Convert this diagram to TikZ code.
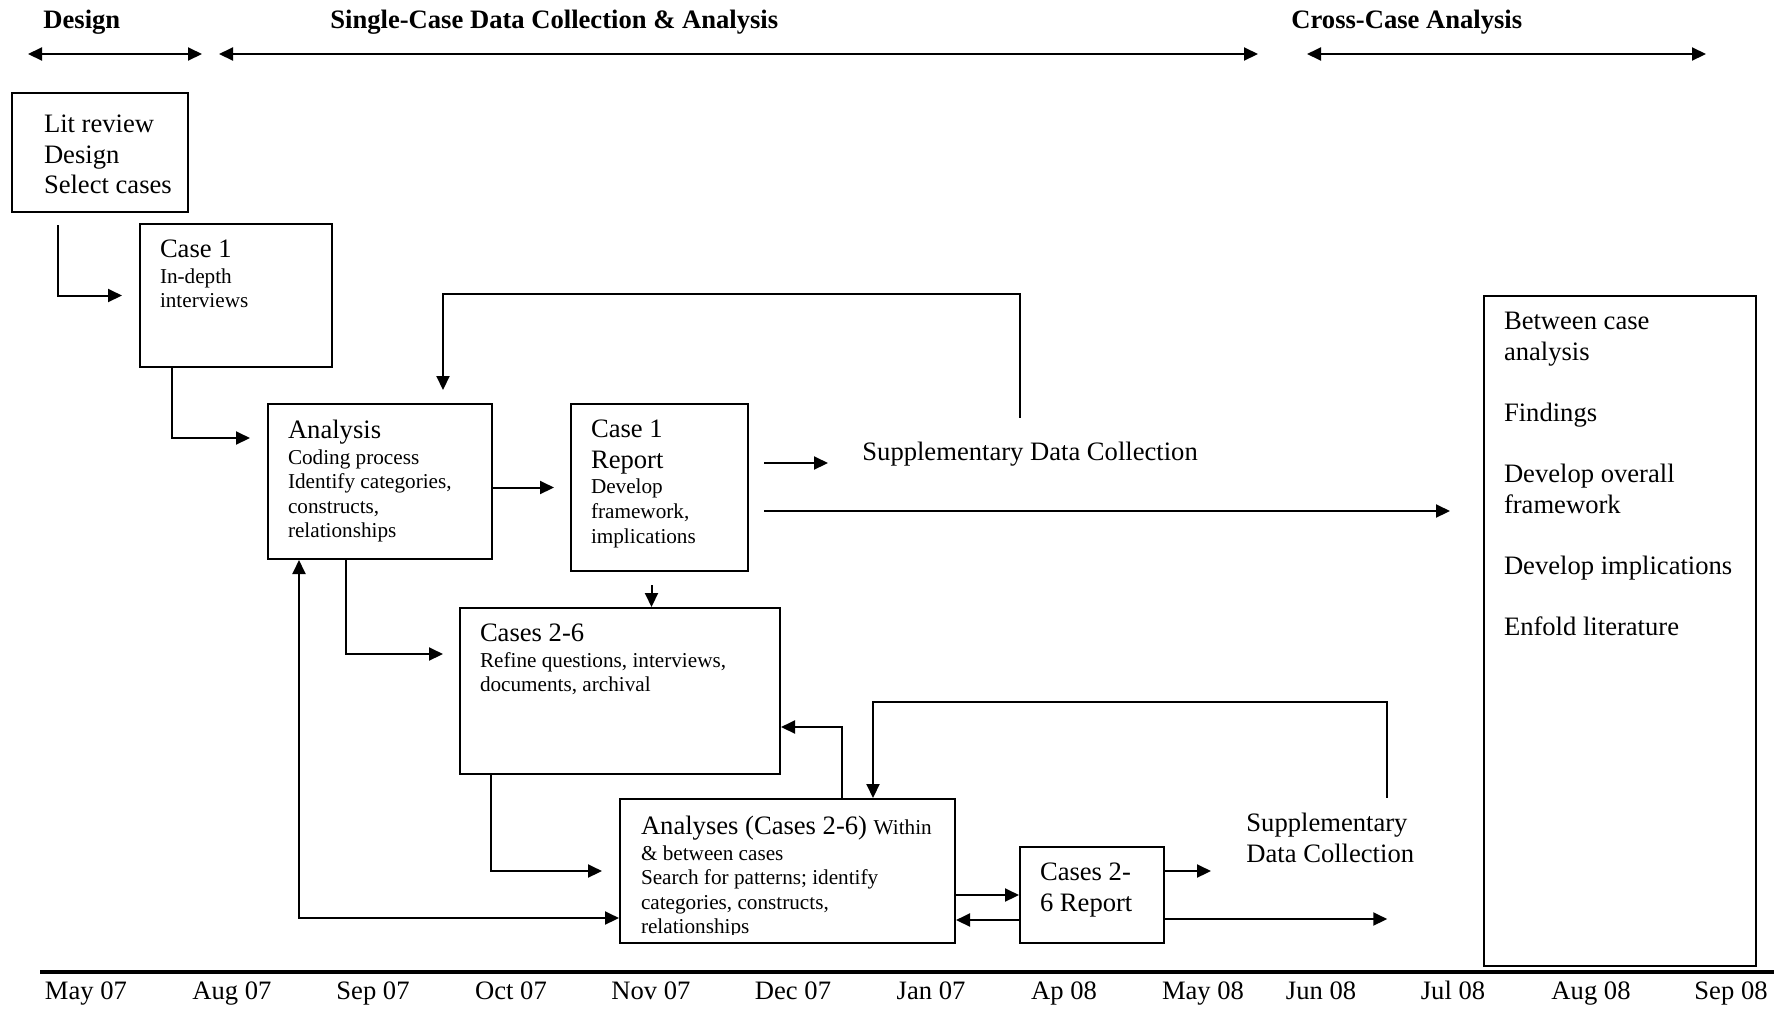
\documentclass[tikz,border=0pt]{standalone}
\usepackage{fontspec}
\setmainfont{Liberation Serif}
\usetikzlibrary{arrows.meta}

\newcommand{\bigfont}{\fontsize{13.3}{15.3}\selectfont}
\newcommand{\smlfont}{\fontsize{10.6}{12.3}\selectfont}
\newcommand{\boxtxt}[3]{\parbox[c][#2][t]{#1}{\raggedright #3}}
\newcommand{\detail}[1]{\par\vspace{0.5pt}{\smlfont #1\par}}

\tikzset{
	stage/.style={draw, line width=1pt, anchor=north west, inner xsep=10pt, inner ysep=8pt, font=\bigfont},
	flow/.style={line width=1pt, -{Triangle[length=7pt,width=6.5pt]}},
	span/.style={line width=1pt, {Triangle[length=7pt,width=6.5pt]}-{Triangle[length=7pt,width=6.5pt]}},
	phase/.style={anchor=west, inner sep=0pt, font=\bigfont\bfseries},
	plain/.style={anchor=west, inner sep=2pt, align=left, font=\bigfont},
	date/.style={anchor=base, inner sep=0pt, font=\bigfont},
}

\begin{document}
\begin{tikzpicture}[x=0.5pt, y=-0.5pt]
	\useasboundingbox (0,0) rectangle (1781,1008);

	% phases
	\node[phase] (design) at (43,22.5) {Design};
	\node[phase] (single) at (330,22.5) {Single-Case Data Collection \& Analysis};
	\node[phase] (cross) at (1291,22.5) {Cross-Case Analysis};
	\draw[span] (28,54) -- (202,54);
	\draw[span] (219,54) -- (1258,54);
	\draw[span] (1307,54) -- (1706,54);

	% boxes
	\node[stage, inner xsep=7pt, inner ysep=11pt] (lit) at (11,92) {\boxtxt{74pt}{37.5pt}{\leftskip=9pt Lit review\\Design\\Select cases}};
	\node[stage] (case1) at (139,223) {\boxtxt{76pt}{55.5pt}{Case 1\detail{In-depth\\interviews}}};
	\node[stage] (analysis) at (267,403) {\boxtxt{92pt}{61.5pt}{Analysis\detail{Coding process\\Identify categories,\\constructs,\\relationships}}};
	\node[stage] (report1) at (570,403) {\boxtxt{68.5pt}{67.5pt}{Case 1\\Report\detail{Develop\\framework,\\implications}}};
	\node[stage] (cases26) at (459,607) {\boxtxt{140pt}{67pt}{Cases 2-6\detail{Refine questions, interviews,\\documents, archival}}};
	\node[stage, inner sep=0pt, minimum width=167.5pt, minimum height=72pt,
		path picture={
			\clip ([yshift=4.5pt]path picture bounding box.south west) rectangle (path picture bounding box.north east);
			\node[anchor=north west, inner sep=0pt, minimum width=0pt, minimum height=0pt, font=\bigfont] at ([shift={(10pt,-8pt)}]path picture bounding box.north west)
				{\parbox[t]{150pt}{\raggedright Analyses (Cases 2-6) {\smlfont Within}\detail{\& between cases\\Search for patterns; identify\\categories, constructs,\\relationships}}};
		}] (analyses) at (619,798) {};
	\node[stage] (report26) at (1019,846) {\boxtxt{52pt}{32pt}{Cases 2-\\6 Report}};
	\node[stage] (right) at (1483,295) {\boxtxt{116pt}{319pt}{Between case\\analysis\\[15.3pt]Findings\\[15.3pt]Develop overall\\framework\\[15.3pt]Develop implications\\[15.3pt]Enfold literature}};

	\node[plain] (supp1) at (858,454) {Supplementary Data Collection};
	\node[plain] (supp2) at (1242,838) {Supplementary\\Data Collection};

	% connectors
	\draw[flow] ([shift={(47,12)}]lit.south west) |- ([xshift=-8.5pt]case1.west);
	\draw[flow] ([xshift=16.5pt]case1.south west) |- ([shift={(-17,35)}]analysis.north west);
	\draw[flow] ([shift={(-10,-20)}]supp1.north) |- ([shift={(176,-109)}]analysis.north west) -- ([shift={(176,-13)}]analysis.north west);
	\draw[flow] (analysis.east |- report1.west) -- ([xshift=-8pt]report1.west);
	\draw[flow] ([shift={(15,-24.5)}]report1.east) coordinate (r1a) -- ([xshift=-15pt]supp1.west |- r1a);
	\draw[flow] ([shift={(15,23.5)}]report1.east) coordinate (r1b) -- ([xshift=-16.5pt]right.west |- r1b);
	\draw[flow] ([shift={(-8,13)}]report1.south) -- ([shift={(-8,0)}]report1.south |- cases26.north);
	\draw[flow] ([xshift=39.5pt]analysis.south west) |- ([shift={(-16,47)}]cases26.north west);
	\draw[flow] ([xshift=16pt]cases26.south west) |- ([xshift=-8.5pt]analyses.west);
	\draw[flow] ([xshift=111.5pt]analyses.north west) |- ([yshift=-18pt]cases26.east);
	\draw[span] ([xshift=16pt]analysis.south west) |- ([yshift=-60pt]analyses.north west);
	\draw[flow] ([shift={(57,-11)}]supp2.north) coordinate (fb2) |- ([shift={(254,-96)}]analyses.north west) -- ([xshift=127pt]analyses.north west);
	\draw[flow] (analyses.east |- report26.west) -- (report26.west);
	\draw[flow] ([yshift=12pt]report26.south west) -- ([yshift=12pt]analyses.east |- report26.south west);
	\draw[flow] ([yshift=12pt]report26.east) coordinate (r2a) -- ([xshift=-15.5pt]supp2.west |- r2a);
	\draw[flow] ([yshift=-12pt]report26.east) coordinate (r2b) -- (fb2 |- r2b);

	% time axis
	\draw[line width=1.75pt] (40,972) -- (1774,972);
	\foreach \x/\m [count=\i] in {86/May 07, 232/Aug 07, 373/Sep 07, 511/Oct 07, 651/Nov 07, 793/Dec 07, 931/Jan 07, 1064/Ap 08, 1203/May 08, 1321/Jun 08, 1453/Jul 08, 1591/Aug 08, 1731/Sep 08}
		\node[date] (date\i) at (\x,999) {\m};
\end{tikzpicture}
\end{document}
